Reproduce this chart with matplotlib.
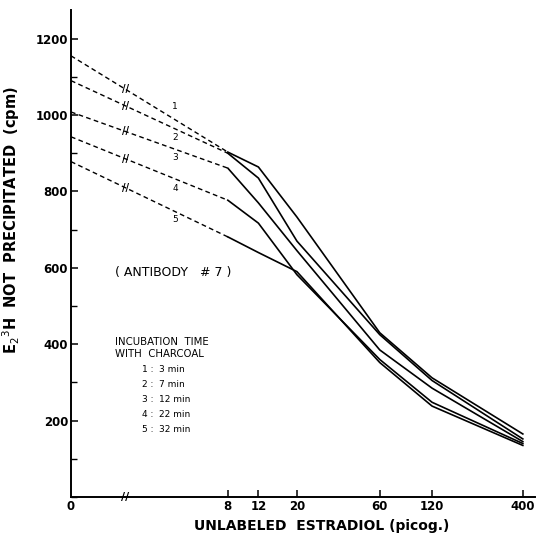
import numpy as np
import matplotlib
matplotlib.use('Agg')
import matplotlib.pyplot as plt
from matplotlib.ticker import NullLocator, MultipleLocator

# unlabeled estradiol dose (picog); 0 is drawn at the left end of the log axis
dose = [0, 8, 12, 20, 60, 120, 400]
dose_ticks = [0, 8, 12, 20, 60, 120, 400]

# E2-3H not precipitated (cpm) for each incubation time with charcoal
curve_1 = [1155, 903, 864, 733, 430, 312, 165]
curve_2 = [1090, 900, 835, 670, 425, 305, 152]
curve_3 = [1008, 861, 770, 645, 385, 285, 145]
curve_4 = [943, 777, 717, 582, 360, 248, 140]
curve_5 = [878, 681, 640, 590, 352, 238, 135]
curves = [curve_1, curve_2, curve_3, curve_4, curve_5]
curve_names = ['1', '2', '3', '4', '5']

incubation_min = [3, 7, 12, 22, 32]

ZERO_POS = 1.0   # where dose 0 sits on the log axis
BREAK_POS = 2.05  # where the axis break marks are

def xpos(d):
    return ZERO_POS if d == 0 else d

fig = plt.figure(figsize=(5.39, 5.34), dpi=100)
ax = fig.add_axes([71 / 539, 37 / 534, 464 / 539, 487 / 534])

xs = [xpos(d) for d in dose]
label_offsets = [9, -7, -6, -7, -6]

for name, ys, off in zip(curve_names, curves, label_offsets):
    # dashed extrapolation back to zero dose
    ax.plot(xs[:2], ys[:2], color='black', lw=1.0, ls=(0, (3.4, 2.4)))
    # measured curve
    ax.plot(xs[1:], ys[1:], color='black', lw=1.2, solid_joinstyle='miter')
    # break marks and curve numbers along the dashed part
    t_break = np.log(BREAK_POS) / np.log(xs[1])
    yb = ys[0] + (ys[1] - ys[0]) * t_break
    ax.text(BREAK_POS, yb, '//', ha='center', va='center', fontsize=7,
            fontweight='bold')
    t_lab = np.log(3.9) / np.log(xs[1])
    yl = ys[0] + (ys[1] - ys[0]) * t_lab
    ax.annotate(name, (3.9, yl), xytext=(1, off), textcoords='offset points',
                ha='center', va='center', fontsize=6.5)

# axis break on the x axis
ax.text(BREAK_POS, 0, '//', ha='center', va='center', fontsize=8,
        fontweight='bold')

ax.set_xscale('log')
ax.set_xlim(1.0, 470)
ax.set_ylim(0, 1275)
ax.xaxis.set_minor_locator(NullLocator())
ax.set_xticks([xpos(d) for d in dose_ticks])
ax.set_xticklabels([str(d) for d in dose_ticks])
ax.xaxis.get_major_ticks()[0].tick1line.set_visible(False)

ax.set_yticks([200, 400, 600, 800, 1000, 1200])
ax.yaxis.set_minor_locator(MultipleLocator(100))

for s in ['top', 'right']:
    ax.spines[s].set_visible(False)
for s in ['left', 'bottom']:
    ax.spines[s].set_linewidth(1.4)

ax.tick_params(which='major', direction='in', length=5, width=1.1,
               labelsize=8.5, pad=2)
ax.tick_params(which='minor', direction='in', length=4, width=1.0)
for lab in ax.get_xticklabels() + ax.get_yticklabels():
    lab.set_fontweight('bold')

ax.set_xlabel('UNLABELED  ESTRADIOL (picog.)', fontsize=10, fontweight='bold',
              labelpad=3)
ax.xaxis.set_label_coords(0.54, -0.045)
ax.set_ylabel(r'E$_2$$^3$H  NOT  PRECIPITATED  (cpm)', fontsize=10.5,
              fontweight='bold', labelpad=8)
ax.yaxis.set_label_coords(-0.105, 0.569)

# annotations in the plot
ax.text(0.22, 0.46, '( ANTIBODY   # 7 )', transform=ax.transAxes,
        ha='center', va='center', fontsize=9)
ax.text(0.095, 0.305, 'INCUBATION  TIME\nWITH  CHARCOAL', transform=ax.transAxes,
        ha='left', va='center', fontsize=7.3, linespacing=1.25)
for i, (name, m) in enumerate(zip(curve_names, incubation_min)):
    yy = 0.262 - i * 0.031
    ax.text(0.152, yy, name + ' :', transform=ax.transAxes, ha='left',
            va='center', fontsize=6.5)
    ax.text(0.19, yy, f'{m} min', transform=ax.transAxes, ha='left',
            va='center', fontsize=6.5)

fig.savefig('out.png', dpi=100)
